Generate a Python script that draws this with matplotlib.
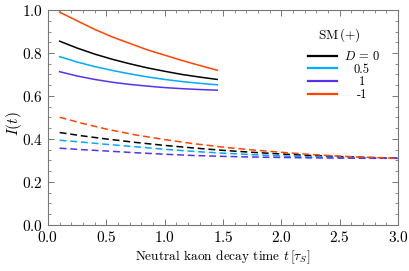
import matplotlib
matplotlib.use("Agg")
import numpy as np
import matplotlib.pyplot as plt
from matplotlib.ticker import MultipleLocator

plt.rcParams['font.family'] = ['cmr10', 'DejaVu Serif']
plt.rcParams['mathtext.fontset'] = 'cm'
plt.rcParams['axes.formatter.use_mathtext'] = True

# solid curves (SM +), t in tau_S
t_solid = [0.1, 0.25, 0.4, 0.55, 0.7, 0.85, 1.0, 1.15, 1.3, 1.45]
solid_d0 = [0.855, 0.823, 0.795, 0.771, 0.750, 0.731, 0.715, 0.700, 0.688, 0.677]
solid_d05 = [0.783, 0.758, 0.737, 0.719, 0.703, 0.689, 0.677, 0.667, 0.659, 0.652]
solid_d1 = [0.713, 0.693, 0.677, 0.664, 0.654, 0.646, 0.639, 0.634, 0.630, 0.627]
solid_dm1 = [0.99, 0.95, 0.91, 0.875, 0.845, 0.815, 0.79, 0.765, 0.742, 0.72]

# dashed curves
t_dash = [0.1, 0.3, 0.5, 0.75, 1.0, 1.25, 1.5, 1.75, 2.0, 2.25, 2.5, 2.75, 3.0]
dash_d0 = [0.430, 0.414, 0.400, 0.384, 0.370, 0.358, 0.347, 0.338, 0.330, 0.323, 0.318, 0.314, 0.311]
dash_d05 = [0.394, 0.385, 0.375, 0.364, 0.352, 0.342, 0.334, 0.327, 0.321, 0.317, 0.314, 0.312, 0.310]
dash_d1 = [0.357, 0.350, 0.344, 0.336, 0.329, 0.323, 0.319, 0.316, 0.314, 0.312, 0.311, 0.310, 0.310]
dash_dm1 = [0.501, 0.472, 0.446, 0.419, 0.397, 0.378, 0.362, 0.349, 0.338, 0.328, 0.320, 0.314, 0.310]

labels = [r'$D\,=\,0$', '0.5', '1', '-1']
colors = ['black', '#00aaff', '#5533ee', '#ff4400']

fig = plt.figure(figsize=(4.10, 2.71), dpi=100)
ax = fig.add_axes([0.117, 0.170, 0.854, 0.793])

solids = [solid_d0, solid_d05, solid_d1, solid_dm1]
dashes = [dash_d0, dash_d05, dash_d1, dash_dm1]
handles = []
for s, d, c, lab in zip(solids, dashes, colors, labels):
    h, = ax.plot(t_solid, s, color=c, lw=1.1, label=lab)
    ax.plot(t_dash, d, color=c, lw=1.1, ls=(0, (4.5, 2.5)))
    handles.append(h)

ax.set_xlim(0, 3.0)
ax.set_ylim(0, 1.0)
ax.xaxis.set_major_locator(MultipleLocator(0.5))
ax.xaxis.set_minor_locator(MultipleLocator(0.1))
ax.yaxis.set_major_locator(MultipleLocator(0.2))
ax.yaxis.set_minor_locator(MultipleLocator(0.05))
ax.tick_params(which='both', direction='in', top=True, right=True,
               color='#777777', labelsize=11)
ax.tick_params(which='major', length=4, width=0.7)
ax.tick_params(which='minor', length=2, width=0.6)
for sp in ax.spines.values():
    sp.set_color('#777777')
    sp.set_linewidth(0.8)

ax.set_xlabel(r'Neutral kaon decay time $t\,[\tau_S]$', fontsize=9.6, labelpad=3)
ax.set_ylabel(r'$I(t)$', fontsize=11)
ax.yaxis.set_label_coords(-0.068, 0.47)

ax.text(0.831, 0.884, 'SM$\\,(+)$', transform=ax.transAxes,
        ha='center', va='center', fontsize=9.5)
leg = ax.legend(handles=handles, frameon=False,
                loc='upper left', bbox_to_anchor=(0.743, 0.814),
                borderaxespad=0, borderpad=0,
                fontsize=9, handlelength=2.3,
                handletextpad=0.55, labelspacing=0.05)
for lh in leg.get_lines():
    lh.set_linewidth(1.6)

# center the legend labels in their column
fig.canvas.draw()
r = fig.canvas.get_renderer()
txts = leg.get_texts()
widths = [t.get_window_extent(r).width for t in txts]
wmax = max(widths)
for t, w in zip(txts, widths):
    t.set_x((wmax - w) / 2)

fig.savefig('out.png', dpi=100)
